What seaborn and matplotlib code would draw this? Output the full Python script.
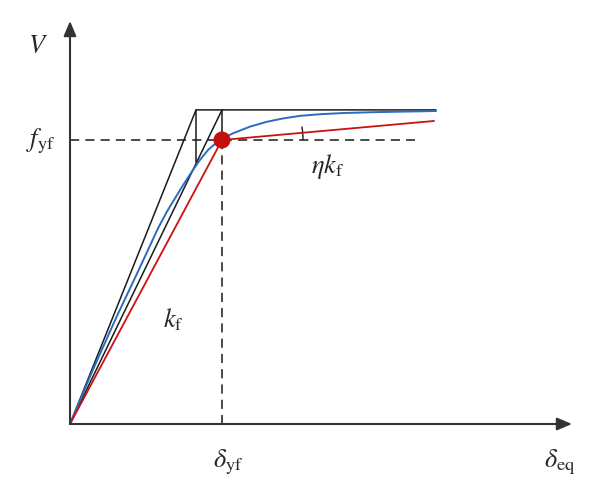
import numpy as np
import pandas as pd
import matplotlib
matplotlib.use("Agg")
import matplotlib.pyplot as plt
from matplotlib.patches import Arc
import seaborn as sns

# values in units of delta_yf (x) and f_yf (y)
f_top = 1.106          # top plateau of the bilinear envelopes
x_knee1 = 0.829        # knee of the stiffer bilinear line
x_knee1_low = 0.923    # lower end of its vertical drop
x_end = 2.408          # end of plateau / curves
dash_end = 2.27        # end of dashed f_yf line

# red bilinear (k_f then eta*k_f)
red_x = [0.0, 1.0, 2.395]
red_y = [0.0, 1.0, 1.067]

# blue capacity curve
blue_x = [0.0, 0.15, 0.30, 0.45, 0.58, 0.64, 0.691, 0.745, 0.801, 0.855,
          0.910, 0.965, 1.020, 1.074, 1.184, 1.294, 1.403, 1.513, 1.65,
          1.80, 2.00, 2.20, 2.408]
blue_y = [0.0, 0.19, 0.37, 0.54, 0.69, 0.75, 0.795, 0.842, 0.888, 0.930,
          0.966, 0.991, 1.010, 1.024, 1.047, 1.064, 1.076, 1.085, 1.091,
          1.095, 1.098, 1.100, 1.102]

# yield point
yield_x = [1.0]
yield_y = [1.0]

sns.set_style("white")
plt.rcParams["mathtext.fontset"] = "stix"
plt.rcParams["font.family"] = ["Liberation Serif", "DejaVu Serif"]

fig = plt.figure(figsize=(6, 5.02), dpi=100)
ax = fig.add_axes([0, 0, 1, 1])
ax.set_xlim(-70 / 152, 530 / 152)
ax.set_ylim(-77 / 284, 425 / 284)
ax.axis("off")

black = "#1a1a1a"
lw = 1.1

def seg(xs, ys, **kw):
    d = pd.DataFrame({"x": xs, "y": ys})
    sns.lineplot(data=d, x="x", y="y", sort=False, estimator=None, ax=ax, **kw)

# black envelopes
seg([0, x_knee1, x_end], [0, f_top, f_top], color=black, lw=lw)
seg([0, 1.0], [0, f_top], color=black, lw=lw)
seg([x_knee1, x_knee1], [f_top, x_knee1_low], color=black, lw=lw)
seg([1.0, 1.0], [f_top, 1.0], color=black, lw=lw)

# dashed guides
seg([0, dash_end], [1.0, 1.0], color=black, lw=lw, dashes=(6, 4))
seg([1.0, 1.0], [1.0, 0], color=black, lw=lw, dashes=(6, 4))

# curves
seg(blue_x, blue_y, color="#2b6cc0", lw=1.4)
seg(red_x, red_y, color="#cc1111", lw=1.3)
sns.scatterplot(x=yield_x, y=yield_y, color="#c40f0f", s=150, edgecolor="none",
                zorder=5, ax=ax)

# angle arc for eta*k_f
ang = np.degrees(np.arctan2((red_y[2] - red_y[1]) * 284, (red_x[2] - red_x[1]) * 152))
ax.add_patch(Arc((1.0, 1.0), 2 * 81 / 152, 2 * 81 / 284, theta1=0, theta2=ang,
                 color=black, lw=1.0))

# axes with arrows
arrow = dict(arrowstyle="-|>,head_length=0.9,head_width=0.38", color="#333333",
             lw=1.5, shrinkA=0, shrinkB=0)
ax.annotate("", xy=(502 / 152, 0), xytext=(0, 0), arrowprops=arrow)
ax.annotate("", xy=(0, 403 / 284), xytext=(0, 0), arrowprops=arrow)

fs = 19
ax.text(-32 / 152, 378 / 284, r"$V$", fontsize=fs, ha="center", va="center")
ax.text(-14 / 152, 1.0, r"$f_{\mathrm{yf}}$", fontsize=fs, ha="right", va="center")
ax.text(1.0 + 6 / 152, -37 / 284, r"$\delta_{\mathrm{yf}}$", fontsize=fs,
        ha="center", va="center")
ax.text(490 / 152, -37 / 284, r"$\delta_{\mathrm{eq}}$", fontsize=fs,
        ha="center", va="center")
ax.text(103 / 152, 105 / 284, r"$k_{\mathrm{f}}$", fontsize=fs, ha="center",
        va="center")
ax.text(258 / 152, 258 / 284, r"$\eta k_{\mathrm{f}}$", fontsize=fs, ha="center",
        va="center")

fig.savefig("out.png", dpi=100)
